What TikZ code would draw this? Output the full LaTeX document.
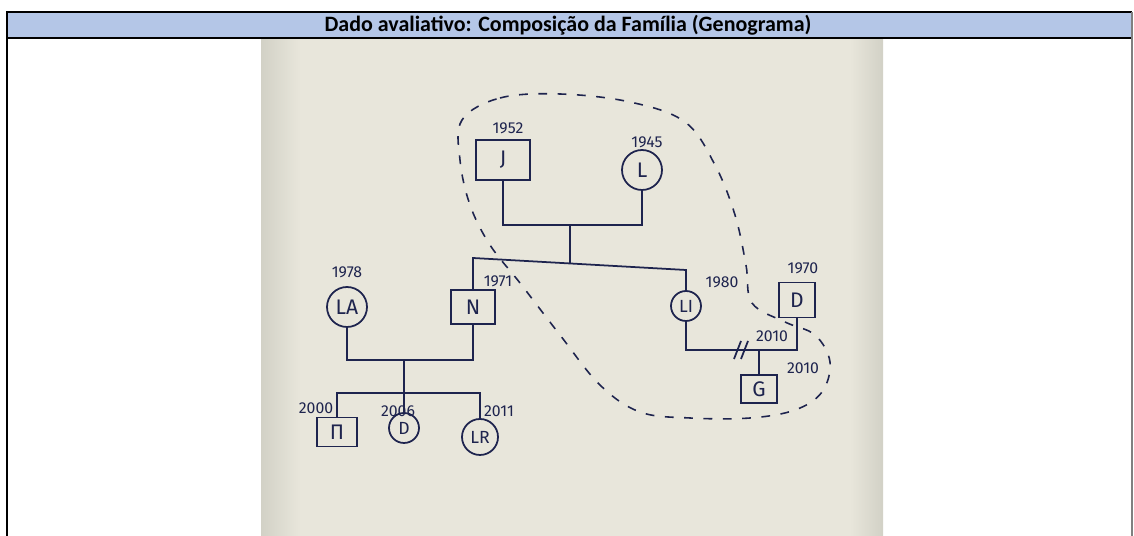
\documentclass[tikz,border=0pt]{standalone}
\usepackage{fontspec}
\setmainfont{Carlito}
\newfontfamily\handfont{Fira Sans}
\usepackage{tikz}
\usetikzlibrary{positioning}
\definecolor{headblue}{RGB}{180,198,231}
\definecolor{ink}{RGB}{30,36,78}
\definecolor{paper}{RGB}{232,230,219}
\definecolor{paperedge}{RGB}{210,209,198}

\begin{document}
\begin{tikzpicture}[x=0.02cm, y=-0.02cm,
malenode/.style={rectangle, draw=ink, line width=1pt, minimum width=0.9cm, minimum height=0.7cm, font=\handfont\large, text=ink, inner sep=0pt},
femalenode/.style={circle, draw=ink, line width=1pt, minimum size=0.7cm, font=\handfont\large, text=ink, inner sep=0pt},
yearlabel/.style={font=\handfont\fontsize{9}{10}\selectfont, text=ink, inner sep=1pt},
familyline/.style={draw=ink, line width=1pt},
boundary/.style={draw=ink, line width=0.9pt, dash pattern=on 5pt off 6pt},
]
\useasboundingbox (0,0) rectangle (1134,536);
%Sheet
\fill[paper] (261,38) rectangle (883,536);
\shade[left color=paperedge, right color=paper] (261,38) rectangle (300,536);
\shade[left color=paper, right color=paperedge] (850,38) rectangle (883,536);
%Header
\fill[headblue] (7,12) rectangle (1132,38);
\node (title) at (568,25) {\fontsize{12.5}{14}\selectfont\bfseries Dado avaliativo: Composição da Família (Genograma)};
\draw[line width=1.5pt] (7,536) -- (7,12) -- (1132,12);
\draw[line width=1.5pt] (7,38) -- (1132,38);
\draw[gray, line width=1pt] (1132,12) -- (1132,536);

%Nodes
\node[malenode, minimum width=1.08cm, minimum height=0.8cm](J) at (503,160){J};
\node[femalenode, minimum size=0.8cm](L) at (642,170){L};
\node[malenode, minimum width=0.88cm, minimum height=0.68cm](N) at (473,307){N};
\node[femalenode, minimum size=0.6cm, font=\handfont](LI) at (686,306){LI};
\node[malenode, minimum width=0.72cm, minimum height=0.7cm](Dm) at (797,300){D};
\node[femalenode, minimum size=0.8cm](LA) at (347,307){LA};
\node[malenode, minimum width=0.8cm, minimum height=0.58cm](P) at (337,432){Π};
\node[femalenode, minimum size=0.6cm, font=\handfont](Df) at (404,428){D};
\node[femalenode, minimum size=0.72cm, font=\handfont](LR) at (480,437){LR};
\node[malenode, minimum width=0.72cm, minimum height=0.56cm](G) at (759,389){G};

%Years
\node[yearlabel](yJ) at (508,128){1952};
\node[yearlabel](yL) at (647,142){1945};
\node[yearlabel](yLA) at (347,272){1978};
\node[yearlabel](yN) at (498,281){1971};
\node[yearlabel](yLI) at (722,282){1980};
\node[yearlabel](yDm) at (803,268){1970};
\node[yearlabel](yM) at (772,336){2010};
\node[yearlabel](yG) at (803,368){2010};
\node[yearlabel](yP) at (316,408){2000};
\node[yearlabel](yDf) at (398,411){2006};
\node[yearlabel](yLR) at (499,411){2011};

%Junctions
\coordinate (m1) at (570,225);
\coordinate (s1) at (570,263);
\coordinate (sL) at (473,258);
\coordinate (sR) at (686,270);
\coordinate (m2) at (404,360);
\coordinate (s2) at (404,393);
\coordinate (m3) at (759,350);
\coordinate (dv) at (742,350);

%Lines
\draw[familyline] (J) |- (m1) -| (L);
\draw[familyline] (m1) -- (s1);
\draw[familyline] (N) -- (sL) -- (sR) -- (LI);
\draw[familyline] (LA) |- (m2) -| (N);
\draw[familyline] (m2) -- (s2);
\draw[familyline] (P) |- (s2) -| (LR);
\draw[familyline] (s2) -- (Df);
\draw[familyline] (LI) |- (m3) -| (Dm);
\draw[familyline] (m3) -- (G);
\draw[familyline] (dv) ++(-8,9) -- ++(7,-18);
\draw[familyline] (dv) ++(-1,9) -- ++(7,-18);

%Household
\draw[boundary] plot[smooth cycle, tension=0.6] coordinates {(462,120) (500,98) (560,94) (630,102) (685,122) (715,165) (735,215) (746,265) (752,303) (785,322) (815,335) (830,362) (822,392) (795,410) (750,418) (690,418) (640,412) (600,385) (560,335) (520,283) (490,245) (470,205) (460,160)};
\end{tikzpicture}
\end{document}
